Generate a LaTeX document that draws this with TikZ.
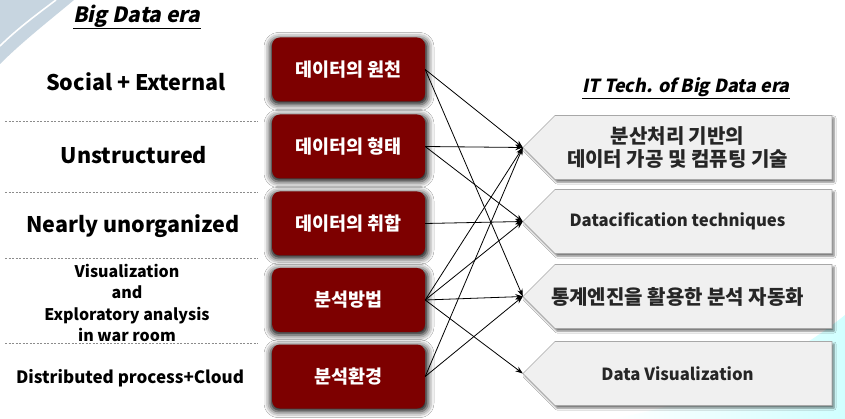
\documentclass[tikz,border=0pt]{standalone}
\usepackage{fontspec}
\setmainfont{Noto Sans CJK KR}
\newfontfamily\slfont{Noto Sans CJK KR}[FakeSlant=0.2]
\usetikzlibrary{shadows.blur,arrows.meta}
\definecolor{boxred}{HTML}{7D0000}
\definecolor{swoosh}{HTML}{C7D5E0}
\definecolor{techfill}{HTML}{F0F0F0}
\definecolor{techline}{HTML}{A8A8A8}
\begin{document}
\begin{tikzpicture}[x=1pt,y=-1pt,
  redbox/.style={fill=boxred, rounded corners=8pt, minimum width=153pt, minimum height=64pt, inner sep=0pt,
    text=white, font=\bfseries\fontsize{18.5}{22}\selectfont,
    blur shadow={shadow xshift=0.5pt, shadow yshift=-2pt, shadow blur radius=6pt, shadow opacity=95, shadow scale=1.03}},
  techbox/.style={minimum width=309pt, minimum height=64pt, inner sep=0pt, align=center,
    text=black!85, font=\bfseries\fontsize{16.7}{21}\selectfont},
  kor/.style={font=\bfseries\fontsize{20}{22.5}\selectfont},
  techshape/.style={draw=techline, line width=0.6pt, fill=techfill,
    blur shadow={shadow xshift=2pt, shadow yshift=-2.5pt, shadow blur radius=2pt, shadow opacity=55}},
  lefttxt/.style={align=center, text=black, font=\bfseries\fontsize{21.5}{26}\selectfont},
  sep/.style={draw=black!45, dash pattern=on 2pt off 1.5pt, line width=0.7pt},
  conn/.style={-{Stealth[length=7.5pt,width=5.5pt]}, line width=0.8pt, black}
]
\useasboundingbox (0,0) rectangle (845,419);
\fill[white] (0,0) rectangle (845,419);
\fill[swoosh] (0,0) -- (74,0) .. controls (50,20) and (22,42) .. (0,64) -- cycle;
\draw[white, line width=1.6pt] (56,0) .. controls (36,15) and (16,30) .. (0,46);
\shade[left color=white, right color=cyan!18!white] (610,419) .. controls (700,405) and (790,360) .. (845,315) -- (845,419) -- cycle;

% tech box outlines (pentagons), drawn first so they lie behind text and arrows
\foreach \cy in {147.5,221.5,296.5,373.5}{
  \path[techshape] (523,\cy) -- (555,\cy-32) -- (832,\cy-32) -- (832,\cy+32) -- (555,\cy+32) -- cycle;
}

% titles
\node (t1) at (137,17) {\slfont\bfseries\fontsize{21}{24}\selectfont\underline{Big Data era}};
\node (t2) at (686,88) {\slfont\bfseries\fontsize{18}{21}\selectfont\underline{IT Tech. of Big Data era}};

% left labels
\node[lefttxt] (l1) at (136,82) {Social + External};
\node[lefttxt] (l2) at (134,155) {Unstructured};
\node[lefttxt] (l3) at (133,226) {Nearly unorganized};
\node[lefttxt, font=\bfseries\fontsize{16}{21.3}\selectfont] (l4) at (127,303) {Visualization\\and\\Exploratory analysis\\in war room};
\node[lefttxt, font=\bfseries\fontsize{17}{20}\selectfont] (l5) at (130,378) {Distributed process+Cloud};

% separators
\draw[sep] (5,121) -- (258,121);
\draw[sep] (5,192) -- (258,192);
\draw[sep] (5,258) -- (258,258);
\draw[sep] (5,343) -- (258,343);

% red boxes
\node[redbox] (a) at (348.5,69.5) {데이터의 원천};
\node[redbox] (b) at (348.5,146.5) {데이터의 형태};
\node[redbox] (c) at (348.5,223.5) {데이터의 취합};
\node[redbox] (d) at (348.5,300) {분석방법};
\node[redbox] (e) at (348.5,376.5) {분석환경};

% tech box texts (west anchor = pentagon tip)
\node[techbox, kor] (r1) at (677.5,147.5) {분산처리 기반의\\데이터 가공 및 컴퓨팅 기술};
\node[techbox] (r2) at (677.5,221.5) {Datacification techniques};
\node[techbox, kor] (r3) at (677.5,296.5) {통계엔진을 활용한 분석 자동화};
\node[techbox] (r4) at (677.5,373.5) {Data Visualization};

% connectors
\draw[conn] (a.east) -- (r1.west);
\draw[conn] (a.east) -- (r3.west);
\draw[conn] (b.east) -- (r1.west);
\draw[conn] (b.east) -- (r2.west);
\draw[conn] (c.east) -- (r2.west);
\draw[conn] (d.east) -- (r1.west);
\draw[conn] (d.east) -- (r2.west);
\draw[conn] (d.east) -- (r3.west);
\draw[conn] (d.east) -- (r4.west);
\draw[conn] (e.east) -- (r1.west);
\draw[conn] (e.east) -- (r3.west);
\end{tikzpicture}
\end{document}
